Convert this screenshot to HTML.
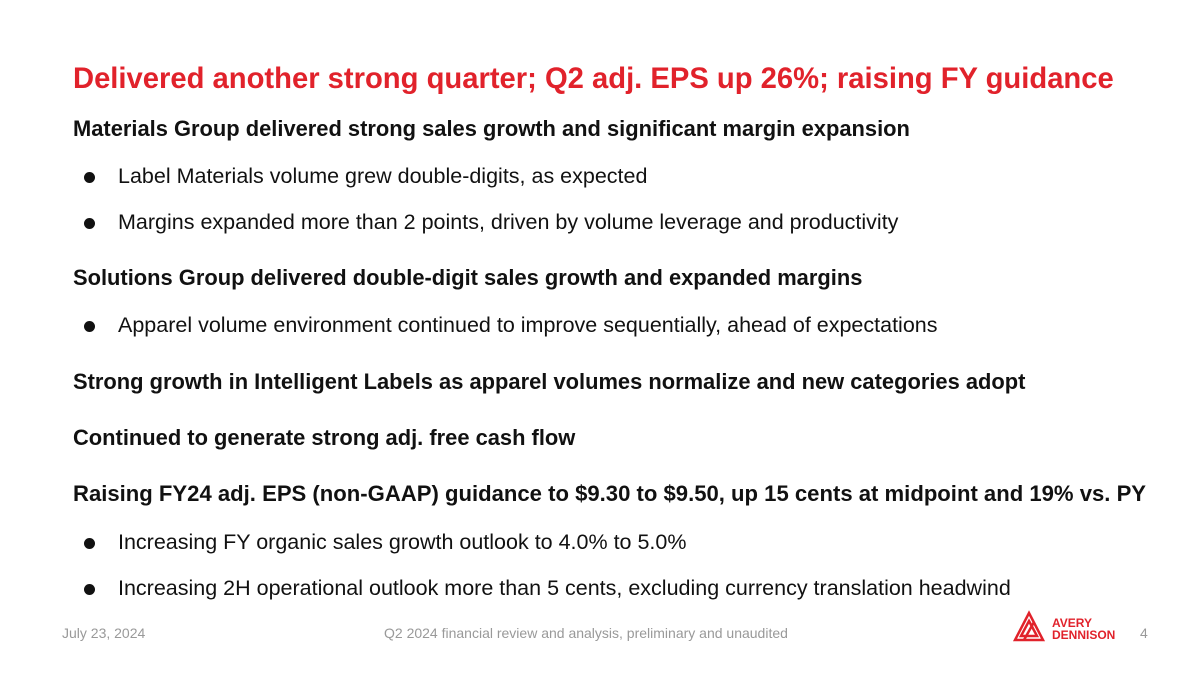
<!DOCTYPE html>
<html><head><meta charset="utf-8"><style>
body{margin:0;width:1200px;height:675px;background:#fff;position:relative;overflow:hidden;font-family:"Liberation Sans",sans-serif;color:#111}
.t{position:absolute;white-space:nowrap;line-height:1}
.title{left:73px;top:65px;font-size:29.2px;font-weight:bold;color:#e1222b}
.h{left:73px;font-size:21.9px;font-weight:bold}
.b{left:118px;font-size:21.5px}
.dot{position:absolute;left:84px;width:11px;height:11px;border-radius:50%;background:#111}
.f{font-size:14px;color:#999;top:626px}
</style></head><body>
<div class="t title">Delivered another strong quarter; Q2 adj. EPS up 26%; raising FY guidance</div>
<div class="t h" style="top:118px">Materials Group delivered strong sales growth and significant margin expansion</div>
<div class="dot" style="top:172px"></div>
<div class="t b" style="top:166px">Label Materials volume grew double-digits, as expected</div>
<div class="dot" style="top:218px"></div>
<div class="t b" style="top:212px">Margins expanded more than 2 points, driven by volume leverage and productivity</div>
<div class="t h" style="top:267px">Solutions Group delivered double-digit sales growth and expanded margins</div>
<div class="dot" style="top:321px"></div>
<div class="t b" style="top:315px">Apparel volume environment continued to improve sequentially, ahead of expectations</div>
<div class="t h" style="top:371px">Strong growth in Intelligent Labels as apparel volumes normalize and new categories adopt</div>
<div class="t h" style="top:427px">Continued to generate strong adj. free cash flow</div>
<div class="t h" style="top:483px;font-size:22.1px">Raising FY24 adj. EPS (non-GAAP) guidance to $9.30 to $9.50, up 15 cents at midpoint and 19% vs. PY</div>
<div class="dot" style="top:538px"></div>
<div class="t b" style="top:532px">Increasing FY organic sales growth outlook to 4.0% to 5.0%</div>
<div class="dot" style="top:584px"></div>
<div class="t b" style="top:578px">Increasing 2H operational outlook more than 5 cents, excluding currency translation headwind</div>
<div class="t f" style="left:62px">July 23, 2024</div>
<div class="t f" style="left:384px">Q2 2024 financial review and analysis, preliminary and unaudited</div>
<svg style="position:absolute;left:1012px;top:610px" width="34" height="34" viewBox="0 0 34 34">
<g fill="none" stroke="#e1222b" stroke-width="2.5"><path d="M17 3 L31 30 H3 Z"/><path d="M17 11 L25 26 H9 Z"/><path d="M12 30 L22 12"/></g></svg>
<div class="t" style="left:1052px;top:617px;font-size:12px;font-weight:bold;color:#e1222b;line-height:12px">AVERY<br>DENNISON</div>
<div class="t f" style="left:1140px">4</div>
</body></html>
